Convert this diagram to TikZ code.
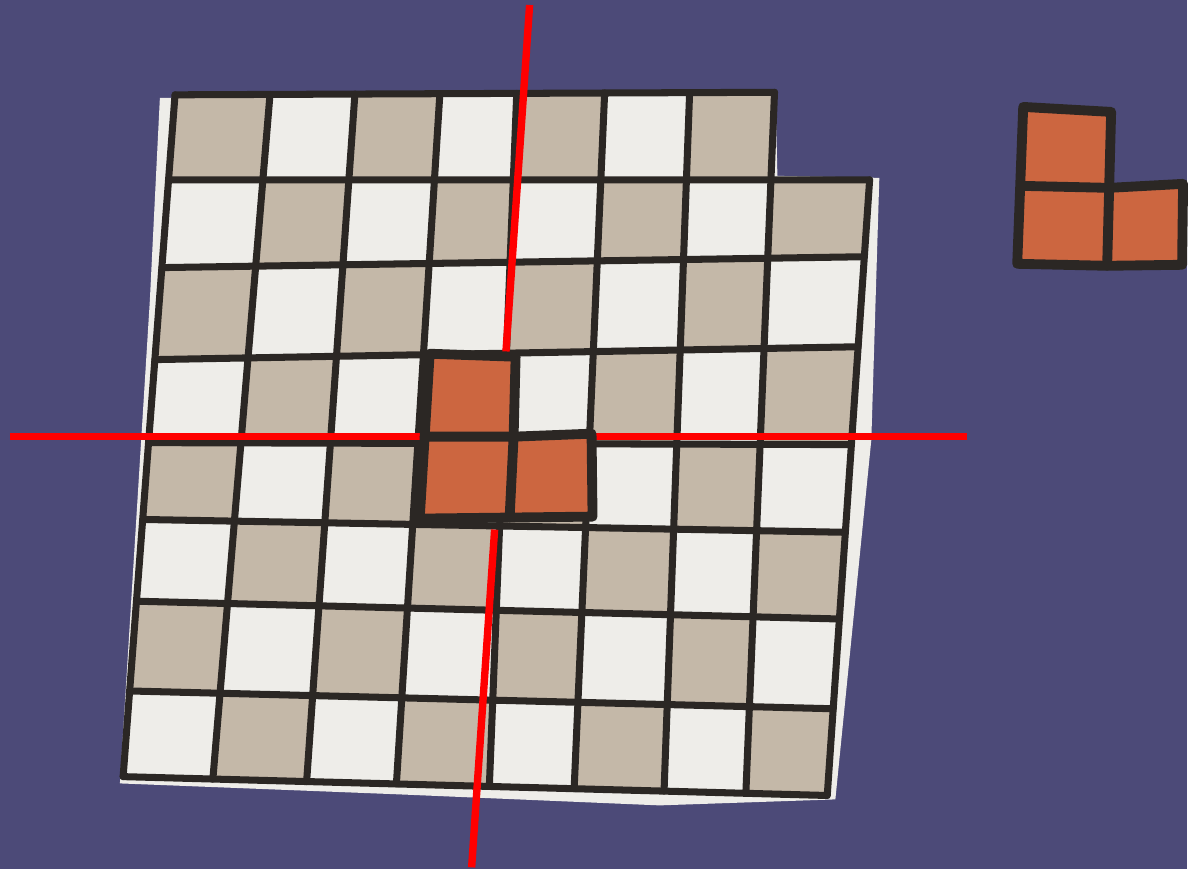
\documentclass[tikz,border=0pt]{standalone}
\usetikzlibrary{calc}
\definecolor{bgblue}{HTML}{4C4A78}
\definecolor{tan}{HTML}{C4B8A8}
\definecolor{paper}{HTML}{EEEDE9}
\definecolor{tile}{HTML}{CC6640}
\definecolor{ink}{HTML}{2B2724}
\tikzset{
  gridline/.style={ink,line width=2pt,line cap=round},
  tileline/.style={ink,line width=2.8pt,line join=round,line cap=round},
  cutline/.style={red,line width=2.1pt,line cap=butt}
}
\begin{document}
\begin{tikzpicture}[x=0.01cm,y=-0.01cm,line cap=round,line join=round]
  \fill[bgblue] (0,0) rectangle (1188,870);
  % paper under the board
  \fill[paper] (160,98)--(776,90)--(778,176)--(880,178)--(872,440)
    --(836,800)--(660,806)--(400,795)--(120,784)--(150,300)--cycle;
  % hand drawn column and row lines
  \foreach \c/\t/\b in {0/175/123,1/270/213,2/355/307,3/440/397,4/517/490,
                        5/605/575,6/690/665,7/775/747,8/876/829} {
    \coordinate (vt\c) at (\t,97);
    \coordinate (vb\c) at (\b,780);
  }
  \foreach \r/\l/\s in {0/95/92,1/180/180,2/268/257,3/360/347,4/443/445,
                        5/520/533,6/602/620,7/692/710,8/778/797} {
    \coordinate (hl\r) at (150,\l);
    \coordinate (hr\r) at (860,\s);
  }
  \foreach \c in {0,...,8}
    \foreach \r in {0,...,8}
      \coordinate (g-\c-\r) at (intersection cs: first line={(vt\c)--(vb\c)},
                                second line={(hl\r)--(hr\r)});
  % cells
  \foreach \c in {0,...,7}
    \foreach \r in {0,...,7} {
      \pgfmathtruncatemacro{\cc}{\c+1}
      \pgfmathtruncatemacro{\rr}{\r+1}
      \pgfmathtruncatemacro{\odd}{mod(\c+\r,2)}
      \pgfmathtruncatemacro{\gone}{and(\c==7,\r==0)}
      \ifnum\odd=0 \def\cellcol{tan}\else\def\cellcol{paper}\fi
      \ifnum\gone=0
        \fill[\cellcol] (g-\c-\r)--(g-\cc-\r)--(g-\cc-\rr)--(g-\c-\rr)--cycle;
      \fi
    }
  % grid lines
  \draw[gridline] (g-0-0)--(g-7-0);
  \foreach \r in {1,...,8}
    \draw[gridline] (g-0-\r)--(g-8-\r);
  \foreach \c in {0,...,7}
    \draw[gridline] (g-\c-0)--(g-\c-8);
  \draw[gridline] (g-8-1)--(g-8-8);
  % cut lines
  \coordinate (vt) at (530,5);
  \coordinate (va) at (506,357);
  \coordinate (vc) at (495,530);
  \coordinate (vb) at (472,868);
  \coordinate (hl) at (10,437);
  \coordinate (ha) at (423,437);
  \coordinate (hc) at (596,437);
  \coordinate (hr) at (968,437);
  \draw[cutline] (vt)--(va) (vc)--(vb);
  \draw[cutline] (hl)--(ha) (hc)--(hr);
  % tromino in the middle
  \coordinate (t1) at (430,354);
  \coordinate (t2) at (516,357);
  \coordinate (t3) at (514,437);
  \coordinate (t4) at (592,434);
  \coordinate (t5) at (593,517);
  \coordinate (t6) at (510,518);
  \coordinate (t7) at (420,519);
  \coordinate (t8) at (425,437);
  \fill[tile] (t1)--(t2)--(t3)--(t4)--(t5)--(t7)--cycle;
  \draw[tileline] (t1)--(t2)--(t3)--(t4)--(t5)--(t7)--cycle;
  \draw[tileline] (t8)--(t3)--(t6);
  % tromino on the right
  \coordinate (a1) at (1024,107);
  \coordinate (a2) at (1112,112);
  \coordinate (a3) at (1110,188);
  \coordinate (a4) at (1022,186);
  \coordinate (a5) at (1184,184);
  \coordinate (a6) at (1183,265);
  \coordinate (a7) at (1108,266);
  \coordinate (a8) at (1018,264);
  \fill[tile] (a1)--(a2)--(a3)--(a5)--(a6)--(a7)--(a8)--cycle;
  \draw[tileline] (a1)--(a2)--(a3)--(a5)--(a6)--(a7)--(a8)--cycle;
  \draw[tileline] (a4)--(a3)--(a7);
\end{tikzpicture}
\end{document}
